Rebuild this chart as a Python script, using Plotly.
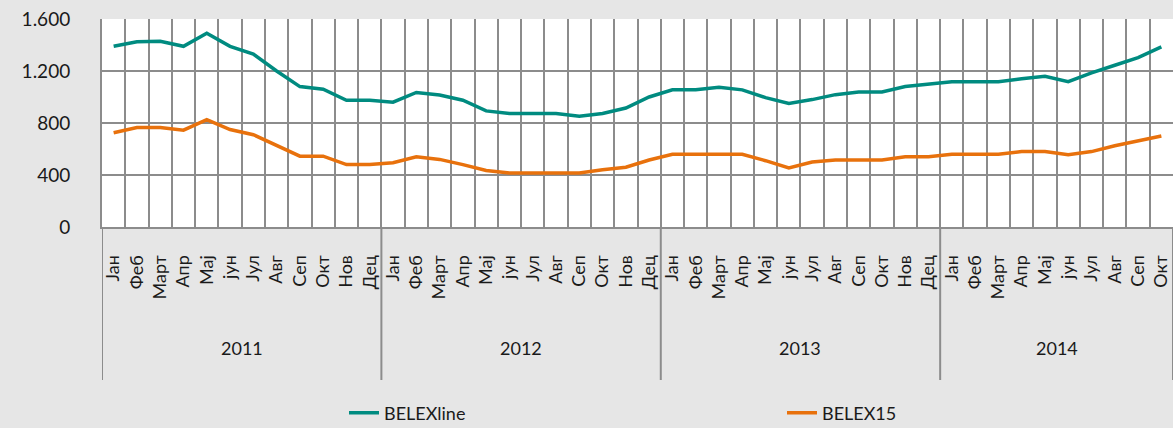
import plotly.graph_objects as go

years = ["2011", "2012", "2013", "2014"]
month_counts = [12, 12, 12, 10]
months = ["Јан", "Феб", "Март", "Апр", "Мај", "јун", "Јул", "Авг", "Сеп", "Окт", "Нов", "Дец"]

belexline = [1390, 1425, 1428, 1390, 1490, 1390, 1330, 1200, 1080, 1060, 975, 975,
             960, 1035, 1015, 975, 893, 873, 873, 873, 852, 873, 915, 1000,
             1055, 1055, 1075, 1055, 995, 950, 980, 1018, 1038, 1038, 1080, 1098,
             1118, 1118, 1118, 1140, 1160, 1118, 1185, 1244, 1303, 1385]
belex15 = [725, 765, 765, 745, 825, 750, 710, 630, 545, 545, 480, 480,
           495, 540, 520, 480, 435, 415, 415, 415, 415, 440, 460, 515,
           560, 560, 560, 560, 510, 455, 500, 515, 515, 515, 540, 540,
           560, 560, 560, 580, 580, 555, 580, 625, 660, 700]
y_ticks = [0, 400, 800, 1200, 1600]

tick_text = []
year_centers = []
boundaries = [-0.5]
pos = 0
for yr, cnt in zip(years, month_counts):
    tick_text += months[:cnt]
    year_centers.append(pos + (cnt - 1) / 2)
    pos += cnt
    boundaries.append(pos - 0.5)
x = list(range(len(belexline)))

FONT = "Lato"
GRID = "#8c8c8c"
BG = "#e6e6e6"

fig = go.Figure()
fig.add_trace(go.Scatter(x=x, y=belexline, mode="lines", name="BELEXline",
                         line=dict(color="#008b80", width=3.5), legend="legend"))
fig.add_trace(go.Scatter(x=x, y=belex15, mode="lines", name="BELEX15",
                         line=dict(color="#e8710c", width=3.5), legend="legend2"))

for b in boundaries:
    fig.add_shape(type="line", xref="x", yref="paper", x0=b, x1=b, y0=0, y1=-153 / 208,
                  line=dict(color=GRID, width=2), layer="below")

for c, yr in zip(year_centers, years):
    fig.add_annotation(x=c, xref="x", y=-121 / 208, yref="paper", text=yr, showarrow=False,
                       font=dict(family=FONT, size=18, color="#1a1a1a"), yanchor="middle")

leg_common = dict(orientation="h", xanchor="left", y=-186 / 208, yanchor="middle",
                  font=dict(family=FONT, size=18, color="#1a1a1a"), bgcolor="rgba(0,0,0,0)")

fig.update_layout(
    width=1173, height=428,
    margin=dict(l=102, r=0, t=19, b=201, autoexpand=False),
    paper_bgcolor=BG, plot_bgcolor="#ffffff",
    separators=",.",
    font=dict(family=FONT, size=18, color="#1a1a1a"),
    showlegend=True,
    legend=dict(x=(344 - 102) / 1071, **leg_common),
    legend2=dict(x=(782 - 102) / 1071, **leg_common),
)
fig.update_xaxes(
    range=[-0.5, len(x) - 0.5], tickmode="array", tickvals=x, ticktext=tick_text,
    tickangle=-90, showgrid=False, ticks="", ticklabelstandoff=19,
    showline=True, linecolor=GRID, linewidth=2,
    minor=dict(tick0=0.5, dtick=1, showgrid=True, gridcolor=GRID, gridwidth=2, ticks=""),
    tickfont=dict(family=FONT, size=18, color="#1a1a1a"), zeroline=False,
)
fig.update_yaxes(
    range=[0, 1600], tickmode="array", tickvals=y_ticks, tickformat=",d",
    showgrid=True, gridcolor=GRID, gridwidth=2, zeroline=False,
    showline=True, linecolor=GRID, linewidth=2, ticks="", ticklabelstandoff=26,
    tickfont=dict(family=FONT, size=19, color="#1a1a1a"),
)

fig.write_html(
    "out.html",
    config={"displayModeBar": False},
    post_script="document.body.style.margin='0';document.body.style.background='" + BG + "';",
)
